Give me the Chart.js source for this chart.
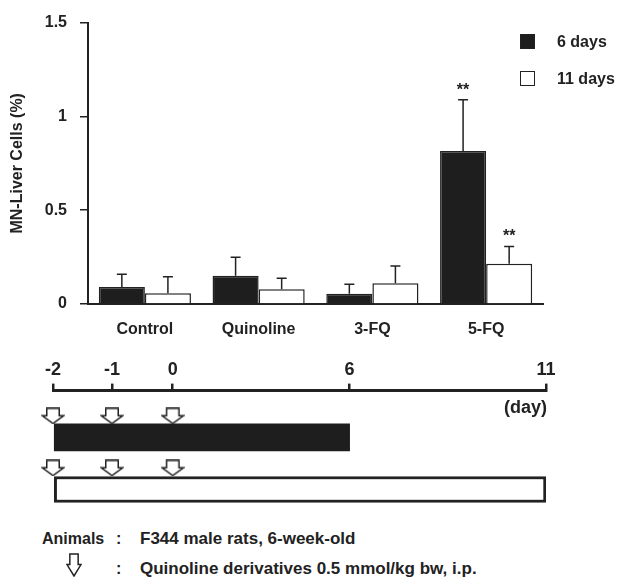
<!DOCTYPE html>
<html>
<head>
<meta charset="utf-8">
<script src="https://cdn.jsdelivr.net/npm/chart.js@4/dist/chart.umd.min.js"></script>
<style>
  body { margin: 0; background: #fff; font-family: "Liberation Sans", Arial, sans-serif; font-weight: bold; color: #222; }
  #wrap { position: relative; width: 619px; height: 581px; overflow: hidden; }
  canvas { position: absolute; left: 0; }
  .txt { position: absolute; white-space: nowrap; line-height: 1; }
  .legend-row { position: absolute; left: 520px; height: 16px; font-size: 16px; white-space: nowrap; }
  .legend-row .sw { position: absolute; left: 0; top: 0; width: 15px; height: 15px; box-sizing: border-box; border: 1.5px solid #222; }
  .legend-row .lb { position: absolute; left: 37px; top: -1px; }
</style>
</head>
<body>
<div id="wrap">
  <canvas id="barChart" width="619" height="345" style="top:0"></canvas>
  <canvas id="timeChart" width="619" height="170" style="top:345px"></canvas>
  <div id="legend"></div>
  <div class="txt" style="left:504px; top:398px; font-size:18px;">(day)</div>
  <div class="txt" style="left:42px; top:531px; font-size:16px;">Animals</div>
  <div class="txt" style="left:116px; top:531px; font-size:16px;">:</div>
  <div class="txt" style="left:140px; top:530px; font-size:17px;">F344 male rats, 6-week-old</div>
  <canvas id="legendArrow" width="16" height="24" style="left:66px; top:553px"></canvas>
  <div class="txt" style="left:116px; top:561px; font-size:16px;">:</div>
  <div class="txt" style="left:140px; top:560px; font-size:17px;">Quinoline derivatives 0.5 mmol/kg bw, i.p.</div>
</div>
<script>
// bar chart data
var groups = ["Control", "Quinoline", "3-FQ", "5-FQ"];
var seriesNames = ["6 days", "11 days"];
var mean6 = [0.09, 0.15, 0.055, 0.815];
var err6 = [0.068, 0.099, 0.05, 0.274];
var sig6 = ["", "", "", "**"];
var mean11 = [0.057, 0.078, 0.11, 0.214];
var err11 = [0.088, 0.059, 0.092, 0.093];
var sig11 = ["", "", "", "**"];
var yTicks = [0, 0.5, 1, 1.5];

// timeline data (axis is schematic, not to scale)
var dayLabels = [-2, -1, 0, 6, 11];
var dayPos = [0, 1, 2.03, 5.03, 8.36];
var doseDays = [-2, -1, 0];
var startDay = -2;
var endDays = [6, 11];

var ink = "#222";
var fontFam = "'Liberation Sans', Arial, sans-serif";
var fills = ["#1e1e1e", "#ffffff"];

function pos(day) {
  return dayPos[dayLabels.indexOf(day)];
}

// legend (html)
var legendHtml = "";
seriesNames.forEach(function (name, i) {
  legendHtml += '<div class="legend-row" style="top:' + (34 + i * 37) + 'px">' +
    '<div class="sw" style="background:' + fills[i] + '"></div>' +
    '<div class="lb">' + name + '</div></div>';
});
document.getElementById("legend").innerHTML = legendHtml;

// error bars + significance stars
var errorBars = {
  id: "errorBars",
  afterDatasetsDraw: function (chart) {
    var ctx = chart.ctx;
    var y = chart.scales.y;
    ctx.save();
    ctx.strokeStyle = ink;
    ctx.fillStyle = ink;
    ctx.lineWidth = 1.5;
    ctx.font = "bold 16px " + fontFam;
    ctx.textAlign = "center";
    ctx.textBaseline = "alphabetic";
    chart.data.datasets.forEach(function (ds, i) {
      var meta = chart.getDatasetMeta(i);
      meta.data.forEach(function (bar, j) {
        var top = y.getPixelForValue(ds.data[j] + ds.errors[j]);
        ctx.beginPath();
        ctx.moveTo(bar.x, bar.y);
        ctx.lineTo(bar.x, top);
        ctx.moveTo(bar.x - 5, top);
        ctx.lineTo(bar.x + 5, top);
        ctx.stroke();
        if (ds.sig[j]) {
          ctx.fillText(ds.sig[j], bar.x, top - 5);
        }
      });
    });
    ctx.restore();
  }
};

new Chart(document.getElementById("barChart"), {
  type: "bar",
  data: {
    labels: groups,
    datasets: [
      {
        label: seriesNames[0],
        data: mean6,
        errors: err6,
        sig: sig6,
        backgroundColor: fills[0],
        borderColor: ink,
        borderWidth: 1.5,
      },
      {
        label: seriesNames[1],
        data: mean11,
        errors: err11,
        sig: sig11,
        backgroundColor: fills[1],
        borderColor: ink,
        borderWidth: 1.5,
      },
    ],
  },
  options: {
    responsive: false,
    animation: false,
    layout: { padding: { top: 22, right: 76, left: 0, bottom: 0 } },
    datasets: { bar: { barPercentage: 1, categoryPercentage: 0.81 } },
    plugins: { legend: { display: false }, tooltip: { enabled: false } },
    scales: {
      x: {
        grid: { display: false },
        border: { display: true, color: ink, width: 2 },
        ticks: { color: ink, padding: 8, font: { size: 16, weight: "bold", family: fontFam } },
        afterFit: function (s) { s.height = 41; },
      },
      y: {
        min: 0,
        max: 1.5,
        afterBuildTicks: function (s) {
          s.ticks = yTicks.map(function (v) { return { value: v }; });
        },
        grid: { drawOnChartArea: false, drawTicks: true, tickLength: 8, color: ink, lineWidth: 1.5 },
        border: { display: true, color: ink, width: 2 },
        ticks: {
          color: ink,
          padding: 13,
          font: { size: 16, weight: "bold", family: fontFam },
          callback: function (v) { return String(v); },
        },
        title: {
          display: true,
          text: "MN-Liver Cells (%)",
          color: ink,
          padding: { top: 8, bottom: 0 },
          font: { size: 16, weight: "bold", family: fontFam },
        },
        afterFit: function (s) { s.width = 88; },
      },
    },
  },
  plugins: [errorBars],
});

// open arrow marker used for the doses
function makeArrow(w, h) {
  var c = document.createElement("canvas");
  c.width = w;
  c.height = h;
  drawArrow(c.getContext("2d"), w, h);
  return c;
}
function drawArrow(g, w, h) {
  var m = 1;
  var sh = w * 0.26;
  var mid = h * 0.48;
  g.beginPath();
  g.moveTo(w / 2 - sh, m);
  g.lineTo(w / 2 + sh, m);
  g.lineTo(w / 2 + sh, mid);
  g.lineTo(w - m, mid);
  g.lineTo(w / 2, h - m);
  g.lineTo(m, mid);
  g.lineTo(w / 2 - sh, mid);
  g.closePath();
  g.fillStyle = "#fff";
  g.fill();
  g.strokeStyle = ink;
  g.lineWidth = 1.5;
  g.stroke();
}
var arrowImg = makeArrow(24, 17);
drawArrow(document.getElementById("legendArrow").getContext("2d"), 16, 24);

var rowY = { arrows: [1.06, 3.24], bars: [1.96, 4.14] };

var timeDatasets = [];
endDays.forEach(function (end, i) {
  timeDatasets.push({
    type: "bar",
    label: seriesNames[i],
    indexAxis: "y",
    grouped: false,
    data: [{ x: [pos(startDay), pos(end)], y: rowY.bars[i] }],
    backgroundColor: fills[i],
    borderColor: ink,
    borderWidth: i === 0 ? 0 : 3,
    borderSkipped: false,
    barThickness: i === 0 ? 27 : 26,
  });
  timeDatasets.push({
    type: "scatter",
    label: "dose " + seriesNames[i],
    data: doseDays.map(function (d) { return { x: pos(d), y: rowY.arrows[i] }; }),
    pointStyle: arrowImg,
    clip: false,
  });
});

new Chart(document.getElementById("timeChart"), {
  type: "bar",
  data: { datasets: timeDatasets },
  options: {
    responsive: false,
    animation: false,
    layout: { padding: { top: 11, left: 53, right: 73, bottom: 2 } },
    plugins: { legend: { display: false }, tooltip: { enabled: false } },
    scales: {
      x: {
        type: "linear",
        position: "top",
        offset: false,
        min: pos(-2),
        max: pos(11),
        afterBuildTicks: function (s) {
          s.ticks = dayPos.map(function (v) { return { value: v }; });
        },
        grid: { offset: false, drawOnChartArea: false, drawTicks: true, tickLength: 7, color: ink, lineWidth: 2.5 },
        border: { display: true, color: ink, width: 3 },
        ticks: {
          autoSkip: false,
          maxRotation: 0,
          color: ink,
          padding: 3,
          font: { size: 18, weight: "bold", family: fontFam },
          callback: function (v) { return String(dayLabels[dayPos.indexOf(v)]); },
        },
      },
      y: { type: "linear", display: false, offset: false, reverse: true, min: 0, max: 5 },
    },
  },
});
</script>
</body>
</html>
